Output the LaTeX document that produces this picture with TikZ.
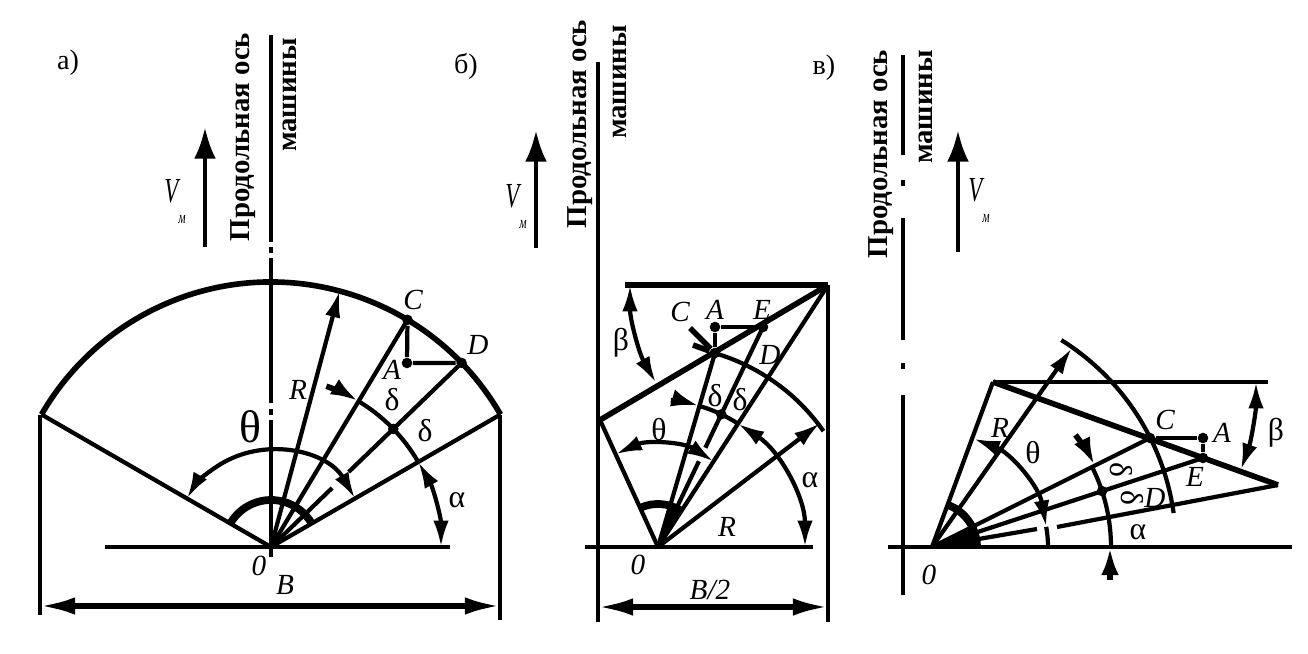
\documentclass[tikz,border=0pt]{standalone}
\usepackage{fontspec}
\setmainfont{Liberation Serif}
\usetikzlibrary{calc,arrows.meta}
\def\centerarc[#1](#2)(#3:#4:#5){\draw[#1] ($(#2)+(#3:#5)$) arc (#3:#4:#5);}
\tikzset{
	thinline/.style={line width=1.2pt},
	heavyline/.style={line width=1.6pt},
	hubarc/.style={line width=2.2pt},
	tipboth/.style={line width=1.2pt, {Latex[length=7.5pt,width=4.4pt]}-{Latex[length=7.5pt,width=4.4pt]}},
	tipend/.style={line width=1.2pt, -{Latex[length=7.5pt,width=4.4pt]}},
	tipdelta/.style={line width=1.6pt, -{Latex[length=8pt,width=5pt]}},
	tipdim/.style={line width=1.5pt, {Latex[length=10pt,width=5pt]}-{Latex[length=10pt,width=5pt]}},
	speedarrow/.style={line width=1.3pt, -{Latex[length=9pt,width=6.2pt]}},
	lab/.style={font=\fontsize{8.3}{8.3}\selectfont\itshape, inner sep=0pt},
	grk/.style={font=\fontsize{9}{9}\selectfont, inner sep=0pt},
	letter/.style={font=\fontsize{8}{8}\selectfont, inner sep=0pt},
	speedlab/.style={font=\fontsize{10}{10}\selectfont\itshape, inner sep=0pt, xscale=0.65},
	axistxt/.style={font=\fontsize{8.2}{8.2}\selectfont\bfseries, rotate=90, inner sep=0pt},
	pointdot/.style={fill=black, circle, inner sep=0pt, minimum size=3pt}
}
\begin{document}
\begin{tikzpicture}[x=0.01cm, y=0.01cm]
	\useasboundingbox (0,0) rectangle (1308,654);

	%%%%% panel a %%%%%
	\node[letter] (letterA) at (68,591) {а)};
	\node[axistxt] (axisAa) at (243,517) {Продольная ось};
	\node[axistxt] (axisAb) at (290,559) {машины};
	\draw[speedarrow] (205,407) -- (205,527);
	\node[speedlab] (speedA) at (175,452) {V\raisebox{-6pt}{\fontsize{5}{5}\selectfont м}};
	\begin{scope}[shift={(271,107)}]
		\draw[thinline] (0,512) -- (0,305);
		\draw[thinline] (0,300) -- (0,294);
		\draw[thinline] (0,289) -- (0,144);
		\draw[thinline] (0,138) -- (0,132);
		\draw[thinline] (0,127) -- (0,-10);

		\draw[thinline] (-166,0) -- (179,0);
		\centerarc[heavyline](0,0)(30:150:265);
		\draw[thinline] (-231,132) -- (-231,-68);
		\draw[thinline] (229,132) -- (229,-73);
		\draw[tipdim] (-231,-59) -- (229,-59);

		\draw[thinline] (0,0) -- (150:265);
		\draw[thinline] (0,0) -- (30:265);
		\draw[thinline] (0,0) -- (59:265);
		\draw[tipend] (0,0) -- (75:265);
		\draw[thinline] (44:265) -- (44:108);
		\draw[thinline] (44:85) -- (44:50);
		\draw[thinline] (44:47) -- (0,0);
		\centerarc[hubarc](0,0)(30:150:47);

		\centerarc[tipboth](0,0)(30:150:97);
		\centerarc[tipboth](0,0)(0:30:170);
		\centerarc[thinline](0,0)(30:59:170);
		\centerarc[tipdelta](0,0)(71:59:170);

		\node[pointdot] (pointAc) at (59:265) {};
		\node[pointdot] (pointAd) at (44:265) {};
		\node[pointdot] (pointAa) at (136,184) {};
		\node[pointdot] (pointAm) at (44:170) {};
		\draw[thinline] (pointAc) -- (pointAa) -- (pointAd);

		\node[lab] (labAc) at (142,247) {C};
		\node[lab] (labAd) at (207,202) {D};
		\node[lab] (labAa) at (121,177) {A};
		\node[lab] (labAr) at (27,157) {R};
		\node[grk] (labAf) at (121,147) {δ};
		\node[grk] (labAg) at (154,116) {δ};
		\node[grk, font=\fontsize{13}{13}\selectfont] (labAt) at (-21,120) {θ};
		\node[grk] (labAl) at (186,47) {α};
		\node[lab] (labAo) at (-12,-19) {0};
		\node[lab] (labAw) at (14,-38) {B};
	\end{scope}

	%%%%% panel b %%%%%
	\node[letter] (letterB) at (466,588) {б)};
	\node[axistxt] (axisBa) at (580,530) {Продольная ось};
	\node[axistxt] (axisBb) at (620,572) {машины};
	\draw[speedarrow] (536,406) -- (536,524);
	\node[speedlab] (speedB) at (516,447) {V\raisebox{-6pt}{\fontsize{5}{5}\selectfont м}};
	\begin{scope}[shift={(658,107)}]
		\draw[thinline] (-60,485) -- (-60,-75);
		\draw[thinline] (-73,0) -- (155,0);
		\draw[thinline] (170,262) -- (170,-75);
		\draw[heavyline] (-33,262) -- (170,262);
		\draw[heavyline] (170,262) -- (-58,127);
		\draw[thinline] (-58,127) -- (0,0);
		\draw[thinline] (0,0) -- (170,262);
		\draw[tipdim] (-60,-60) -- (170,-60);

		\draw[thinline] (0,0) -- (57,194);
		\draw[thinline] (105,220) -- (64.5:110);
		\draw[thinline] (64.5:95) -- (0,0);
		\draw[tipend] (0,0) -- (37.4:204);
		\centerarc[thinline](0,0)(35:75:202);

		\centerarc[tipboth](0,0)(0:57:147);
		\centerarc[thinline](0,0)(57:73.6:147);
		\centerarc[tipdelta](0,0)(85:73.6:147);
		\centerarc[tipboth](0,0)(57:114.5:102);
		\centerarc[hubarc](0,0)(57:114:43);
		\fill (0,0) -- (57:43) arc (57:74:43) -- cycle;
		\centerarc[tipboth](170,262)(180:209.6:198);

		\node[pointdot] (pointBc) at (57,194) {};
		\node[pointdot] (pointBa) at (57,220) {};
		\node[pointdot] (pointBe) at (105,220) {};
		\node[pointdot] (pointBm) at (64.5:147) {};
		\draw[thinline] (pointBc) -- (pointBa) -- (pointBe);
		\draw[heavyline] (32,219) -- (pointBc);
		\draw[heavyline] (35,202) -- (pointBc);

		\node[lab] (labBc) at (22,235) {C};
		\node[lab] (labBa) at (57,237) {A};
		\node[lab] (labBe) at (104,237) {E};
		\node[lab] (labBd) at (112,192) {D};
		\node[lab] (labBr) at (69,20) {R};
		\node[grk] (labBf) at (57,151) {δ};
		\node[grk] (labBg) at (82,147) {δ};
		\node[grk] (labBt) at (1,117) {θ};
		\node[grk] (labBl) at (152,67) {α};
		\node[grk] (labBh) at (-37,204) {β};
		\node[lab] (labBo) at (-20,-18) {0};
		\node[lab] (labBw) at (52,-43) {B/2};
	\end{scope}

	%%%%% panel v %%%%%
	\node[letter] (letterC) at (824,586) {в)};
	\node[axistxt] (axisCa) at (881,500) {Продольная ось};
	\node[axistxt] (axisCb) at (926,547) {машины};
	\draw[speedarrow] (958,402) -- (958,524);
	\node[speedlab] (speedC) at (979,453) {V\raisebox{-6pt}{\fontsize{5}{5}\selectfont м}};
	\begin{scope}[shift={(932,107)}]
		\draw[thinline] (-29,492) -- (-29,392);
		\draw[thinline] (-29,367) -- (-29,361);
		\draw[thinline] (-29,329) -- (-29,207);
		\draw[thinline] (-29,184) -- (-29,178);
		\draw[thinline] (-29,152) -- (-29,-48);

		\draw[thinline] (-44,0) -- (360,0);
		\draw[thinline] (0,0) -- (61,165);
		\draw[thinline] (61,165) -- (336,165);
		\draw[heavyline] (61,165) -- (346,62);
		\draw[thinline] (346,62) -- (125,20);
		\draw[thinline] (105,18) -- (0,0);

		\draw[thinline] (0,0) -- (218,109);
		\draw[thinline] (0,0) -- (271,89);
		\draw[tipend] (0,0) -- (54.9:243);
		\centerarc[thinline](0,0)(8:58:244);

		\centerarc[thinline](0,0)(0:26.6:179);
		\centerarc[tipdelta](0,0)(38:26.6:182);
		\draw[tipdelta] (178,-33) -- (178,0);
		\centerarc[tipboth](0,0)(10:69:116);
		\centerarc[thinline](0,0)(0:10:116);
		\centerarc[hubarc](0,0)(0:70:45);
		\fill (0,0) -- (45,0) arc (0:25:45) -- cycle;
		\centerarc[tipboth](61,165)(0:-19.5:263);

		\node[pointdot] (pointCc) at (218,109) {};
		\node[pointdot] (pointCa) at (271,109) {};
		\node[pointdot] (pointCe) at (271,89) {};
		\node[pointdot] (pointCm) at (18.2:179) {};
		\draw[thinline] (pointCc) -- (pointCa) -- (pointCe);

		\node[lab] (labCc) at (233,127) {C};
		\node[lab] (labCa) at (290,114) {A};
		\node[lab] (labCe) at (263,70) {E};
		\node[lab] (labCd) at (223,49) {D};
		\node[lab] (labCr) at (68,119) {R};
		\node[grk, rotate=-90] (labCf) at (189,77) {δ};
		\node[grk, rotate=-90] (labCg) at (200,49) {δ};
		\node[grk] (labCt) at (101,94) {θ};
		\node[grk] (labCl) at (206,15) {α};
		\node[grk] (labCh) at (344,114) {β};
		\node[lab] (labCo) at (-3,-28) {0};
	\end{scope}
\end{tikzpicture}
\end{document}
